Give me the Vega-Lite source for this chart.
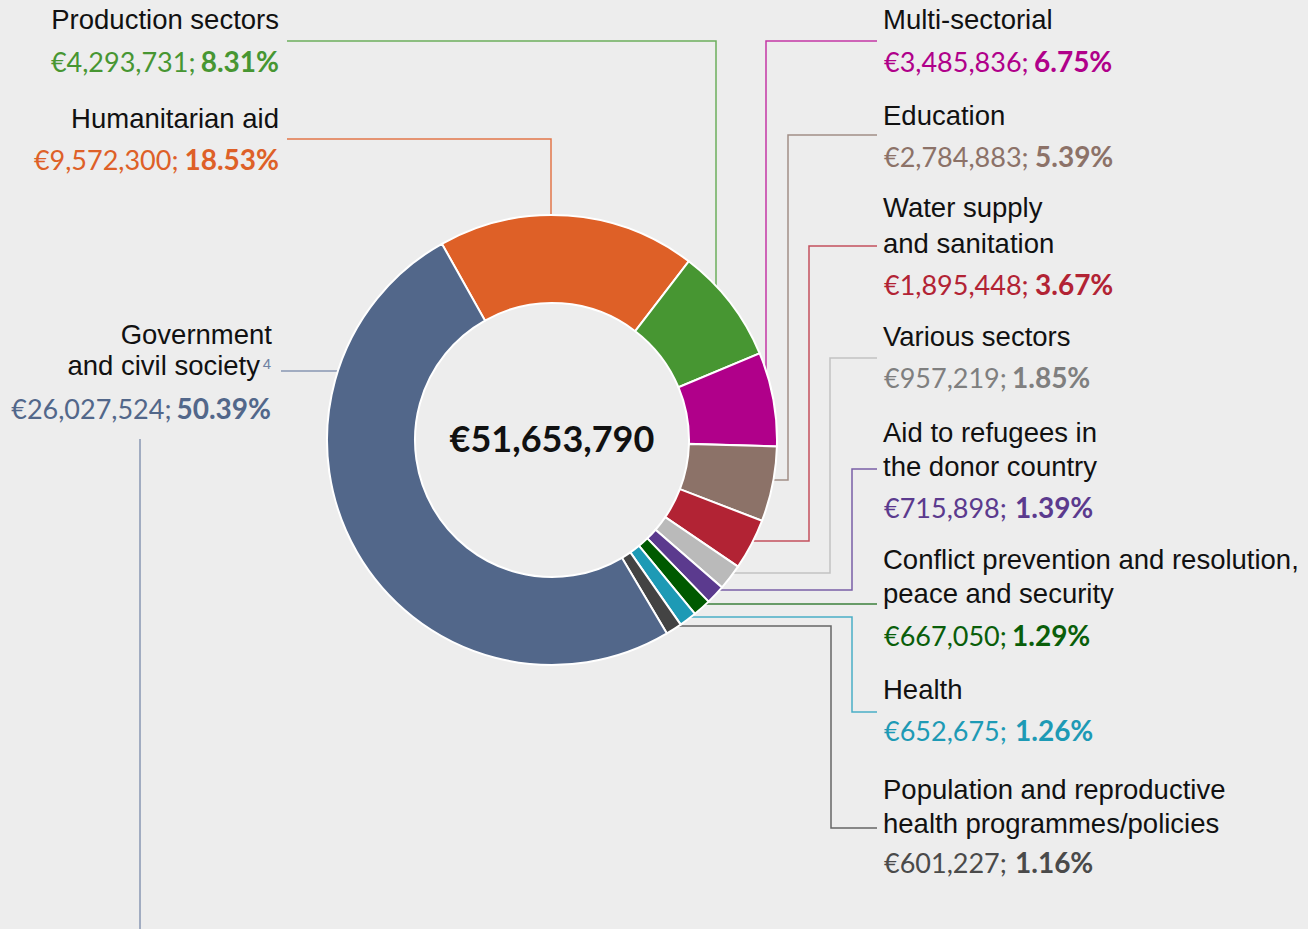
{
  "$schema": "https://vega.github.io/schema/vega-lite/v6.json",
  "width": 1308,
  "height": 929,
  "autosize": {"type": "none"},
  "padding": 0,
  "background": "#ededed",
  "config": {"view": {"stroke": null}},
  "datasets": {
    "sectors": [
      {"key": "hum", "category": "Humanitarian aid", "amount": 9572300, "pct": 18.53, "order": 1},
      {"key": "prod", "category": "Production sectors", "amount": 4293731, "pct": 8.31, "order": 2},
      {"key": "multi", "category": "Multi-sectorial", "amount": 3485836, "pct": 6.75, "order": 3},
      {"key": "edu", "category": "Education", "amount": 2784883, "pct": 5.39, "order": 4},
      {"key": "water", "category": "Water supply and sanitation", "amount": 1895448, "pct": 3.67, "order": 5},
      {"key": "various", "category": "Various sectors", "amount": 957219, "pct": 1.85, "order": 6},
      {"key": "refugees", "category": "Aid to refugees in the donor country", "amount": 715898, "pct": 1.39, "order": 7},
      {"key": "conflict", "category": "Conflict prevention and resolution, peace and security", "amount": 667050, "pct": 1.29, "order": 8},
      {"key": "health", "category": "Health", "amount": 652675, "pct": 1.26, "order": 9},
      {"key": "pop", "category": "Population and reproductive health programmes/policies", "amount": 601227, "pct": 1.16, "order": 10},
      {"key": "gov", "category": "Government and civil society", "amount": 26027524, "pct": 50.39, "order": 11}
    ],
    "labels": [
      {"key": "prod", "kind": "name", "side": "left", "text": "Production sectors", "x": 279, "y": 29},
      {"key": "prod", "kind": "amount", "side": "left", "x": 195.5, "y": 72},
      {"key": "prod", "kind": "pct", "side": "left", "x": 279, "y": 72},
      {"key": "hum", "kind": "name", "side": "left", "text": "Humanitarian aid", "x": 279, "y": 128},
      {"key": "hum", "kind": "amount", "side": "left", "x": 178.5, "y": 170},
      {"key": "hum", "kind": "pct", "side": "left", "x": 279, "y": 170},
      {"key": "gov", "kind": "name", "side": "left", "text": "Government", "x": 272, "y": 344},
      {"key": "gov", "kind": "name", "side": "left", "text": "and civil society", "x": 260, "y": 375},
      {"key": "gov", "kind": "sup", "side": "left", "text": "4", "x": 271, "y": 369},
      {"key": "gov", "kind": "amount", "side": "left", "x": 171.5, "y": 419},
      {"key": "gov", "kind": "pct", "side": "left", "x": 271, "y": 419},
      {"key": "multi", "kind": "name", "side": "right", "text": "Multi-sectorial", "x": 883, "y": 29},
      {"key": "multi", "kind": "amount", "side": "right", "x": 884, "y": 72},
      {"key": "multi", "kind": "pct", "side": "right", "x": 1034, "y": 72},
      {"key": "edu", "kind": "name", "side": "right", "text": "Education", "x": 883, "y": 125},
      {"key": "edu", "kind": "amount", "side": "right", "x": 884, "y": 167},
      {"key": "edu", "kind": "pct", "side": "right", "x": 1035, "y": 167},
      {"key": "water", "kind": "name", "side": "right", "text": "Water supply", "x": 883, "y": 217},
      {"key": "water", "kind": "name", "side": "right", "text": "and sanitation", "x": 883, "y": 252.5},
      {"key": "water", "kind": "amount", "side": "right", "x": 884, "y": 295},
      {"key": "water", "kind": "pct", "side": "right", "x": 1035, "y": 295},
      {"key": "various", "kind": "name", "side": "right", "text": "Various sectors", "x": 883, "y": 346},
      {"key": "various", "kind": "amount", "side": "right", "x": 884, "y": 388},
      {"key": "various", "kind": "pct", "side": "right", "x": 1012, "y": 388},
      {"key": "refugees", "kind": "name", "side": "right", "text": "Aid to refugees in", "x": 883, "y": 442},
      {"key": "refugees", "kind": "name", "side": "right", "text": "the donor country", "x": 883, "y": 476},
      {"key": "refugees", "kind": "amount", "side": "right", "x": 884, "y": 518},
      {"key": "refugees", "kind": "pct", "side": "right", "x": 1015, "y": 518},
      {"key": "conflict", "kind": "name", "side": "right", "text": "Conflict prevention and resolution,", "x": 883, "y": 568.5},
      {"key": "conflict", "kind": "name", "side": "right", "text": "peace and security", "x": 883, "y": 603},
      {"key": "conflict", "kind": "amount", "side": "right", "x": 884, "y": 646},
      {"key": "conflict", "kind": "pct", "side": "right", "x": 1012, "y": 646},
      {"key": "health", "kind": "name", "side": "right", "text": "Health", "x": 883, "y": 699},
      {"key": "health", "kind": "amount", "side": "right", "x": 884, "y": 741},
      {"key": "health", "kind": "pct", "side": "right", "x": 1015, "y": 741},
      {"key": "pop", "kind": "name", "side": "right", "text": "Population and reproductive", "x": 883, "y": 799},
      {"key": "pop", "kind": "name", "side": "right", "text": "health programmes/policies", "x": 883, "y": 832.5},
      {"key": "pop", "kind": "amount", "side": "right", "x": 884, "y": 873},
      {"key": "pop", "kind": "pct", "side": "right", "x": 1015, "y": 873},
      {"key": "total", "kind": "total", "side": "center", "text": "€51,653,790", "x": 552, "y": 452}
    ],
    "leaders": [
      {"path": "prod", "key": "prod", "seq": 1, "x": 287, "y": 41},
      {"path": "prod", "key": "prod", "seq": 2, "x": 716, "y": 41},
      {"path": "prod", "key": "prod", "seq": 3, "x": 716, "y": 300},
      {"path": "hum", "key": "hum", "seq": 1, "x": 287, "y": 139},
      {"path": "hum", "key": "hum", "seq": 2, "x": 551, "y": 139},
      {"path": "hum", "key": "hum", "seq": 3, "x": 551, "y": 225},
      {"path": "gov", "key": "gov", "seq": 1, "x": 281, "y": 371},
      {"path": "gov", "key": "gov", "seq": 2, "x": 345, "y": 371},
      {"path": "gov2", "key": "gov", "seq": 1, "x": 140, "y": 439},
      {"path": "gov2", "key": "gov", "seq": 2, "x": 140, "y": 929},
      {"path": "multi", "key": "multi", "seq": 1, "x": 877, "y": 41},
      {"path": "multi", "key": "multi", "seq": 2, "x": 766, "y": 41},
      {"path": "multi", "key": "multi", "seq": 3, "x": 766, "y": 380},
      {"path": "edu", "key": "edu", "seq": 1, "x": 877, "y": 135},
      {"path": "edu", "key": "edu", "seq": 2, "x": 788, "y": 135},
      {"path": "edu", "key": "edu", "seq": 3, "x": 788, "y": 480},
      {"path": "edu", "key": "edu", "seq": 4, "x": 765, "y": 480},
      {"path": "water", "key": "water", "seq": 1, "x": 877, "y": 246},
      {"path": "water", "key": "water", "seq": 2, "x": 809, "y": 246},
      {"path": "water", "key": "water", "seq": 3, "x": 809, "y": 541},
      {"path": "water", "key": "water", "seq": 4, "x": 745, "y": 541},
      {"path": "various", "key": "various", "seq": 1, "x": 877, "y": 358},
      {"path": "various", "key": "various", "seq": 2, "x": 830, "y": 358},
      {"path": "various", "key": "various", "seq": 3, "x": 830, "y": 573},
      {"path": "various", "key": "various", "seq": 4, "x": 725, "y": 573},
      {"path": "refugees", "key": "refugees", "seq": 1, "x": 877, "y": 469},
      {"path": "refugees", "key": "refugees", "seq": 2, "x": 852, "y": 469},
      {"path": "refugees", "key": "refugees", "seq": 3, "x": 852, "y": 590},
      {"path": "refugees", "key": "refugees", "seq": 4, "x": 710, "y": 590},
      {"path": "conflict", "key": "conflict", "seq": 1, "x": 877, "y": 604},
      {"path": "conflict", "key": "conflict", "seq": 2, "x": 695, "y": 604},
      {"path": "health", "key": "health", "seq": 1, "x": 877, "y": 712},
      {"path": "health", "key": "health", "seq": 2, "x": 852, "y": 712},
      {"path": "health", "key": "health", "seq": 3, "x": 852, "y": 617},
      {"path": "health", "key": "health", "seq": 4, "x": 683, "y": 617},
      {"path": "pop", "key": "pop", "seq": 1, "x": 877, "y": 828},
      {"path": "pop", "key": "pop", "seq": 2, "x": 831, "y": 828},
      {"path": "pop", "key": "pop", "seq": 3, "x": 831, "y": 626},
      {"path": "pop", "key": "pop", "seq": 4, "x": 672, "y": 626}
    ]
  },
  "layer": [
    {
      "data": {"name": "leaders"},
      "mark": {"type": "line", "strokeWidth": 1.5, "interpolate": "linear"},
      "encoding": {
        "x": {"field": "x", "type": "quantitative", "scale": {"domain": [0, 1308], "nice": false, "zero": false}, "axis": null},
        "y": {"field": "y", "type": "quantitative", "scale": {"domain": [0, 929], "nice": false, "zero": false, "reverse": true}, "axis": null},
        "detail": {"field": "path", "type": "nominal"},
        "order": {"field": "seq", "type": "quantitative"},
        "stroke": {
          "field": "key", "type": "nominal", "legend": null,
          "scale": {
            "domain": ["hum", "prod", "multi", "edu", "water", "various", "refugees", "conflict", "health", "pop", "gov"],
            "range": ["#e2774a", "#6cae5c", "#c437a5", "#a18f87", "#c4505d", "#c2c2c2", "#7a5fa6", "#3b7f3b", "#4aaec6", "#666666", "#8796b2"]
          }
        }
      }
    },
    {
      "data": {"name": "sectors"},
      "transform": [
        {"stack": "amount", "groupby": [], "sort": [{"field": "order", "order": "ascending"}], "as": ["t0", "t1"]}
      ],
      "mark": {"type": "arc", "innerRadius": 137, "outerRadius": 225, "stroke": "#ffffff", "strokeWidth": 2},
      "encoding": {
        "x": {"datum": 552, "type": "quantitative", "scale": {"domain": [0, 1308], "nice": false, "zero": false}, "axis": null},
        "y": {"datum": 440, "type": "quantitative", "scale": {"domain": [0, 929], "nice": false, "zero": false, "reverse": true}, "axis": null},
        "theta": {"field": "t0", "type": "quantitative", "scale": {"domain": [0, 51653791], "range": [-0.5114, 5.7718]}},
        "theta2": {"field": "t1"},
        "fill": {
          "field": "key", "type": "nominal", "legend": null,
          "scale": {
            "domain": ["hum", "prod", "multi", "edu", "water", "various", "refugees", "conflict", "health", "pop", "gov"],
            "range": ["#de6027", "#479632", "#b0008a", "#8c7268", "#b22334", "#bababa", "#5b3a8e", "#005a00", "#1d9ab5", "#434343", "#52678a"]
          }
        }
      }
    },
    {
      "data": {"name": "labels"},
      "transform": [{"filter": "datum.kind == 'name' && datum.side == 'left'"}],
      "mark": {"type": "text", "align": "right", "baseline": "alphabetic", "font": "Liberation Sans", "fontSize": 27.5, "fill": "#111111"},
      "encoding": {
        "x": {"field": "x", "type": "quantitative", "scale": {"domain": [0, 1308], "nice": false, "zero": false}, "axis": null},
        "y": {"field": "y", "type": "quantitative", "scale": {"domain": [0, 929], "nice": false, "zero": false, "reverse": true}, "axis": null},
        "text": {"field": "text"}
      }
    },
    {
      "data": {"name": "labels"},
      "transform": [{"filter": "datum.kind == 'name' && datum.side == 'right'"}],
      "mark": {"type": "text", "align": "left", "baseline": "alphabetic", "font": "Liberation Sans", "fontSize": 27.5, "fill": "#111111"},
      "encoding": {
        "x": {"field": "x", "type": "quantitative", "scale": {"domain": [0, 1308], "nice": false, "zero": false}, "axis": null},
        "y": {"field": "y", "type": "quantitative", "scale": {"domain": [0, 929], "nice": false, "zero": false, "reverse": true}, "axis": null},
        "text": {"field": "text"}
      }
    },
    {
      "data": {"name": "labels"},
      "transform": [
        {"lookup": "key", "from": {"data": {"name": "sectors"}, "key": "key", "fields": ["amount", "pct"]}},
        {"calculate": "'€' + format(datum.amount, ',') + ';'", "as": "label"},
        {"filter": "datum.kind == 'amount' && datum.side == 'left'"}
      ],
      "mark": {"type": "text", "align": "right", "baseline": "alphabetic", "font": "Lato", "fontSize": 27},
      "encoding": {
        "x": {"field": "x", "type": "quantitative", "scale": {"domain": [0, 1308], "nice": false, "zero": false}, "axis": null},
        "y": {"field": "y", "type": "quantitative", "scale": {"domain": [0, 929], "nice": false, "zero": false, "reverse": true}, "axis": null},
        "text": {"field": "label"},
        "color": {
          "field": "key", "type": "nominal", "legend": null,
          "scale": {
            "domain": ["hum", "prod", "multi", "edu", "water", "various", "refugees", "conflict", "health", "pop", "gov"],
            "range": ["#de6027", "#479632", "#b0008a", "#8c7268", "#b22334", "#7f7f7f", "#5b3a8e", "#0a5e0a", "#1d9ab5", "#4a4a4a", "#52678a"]
          }
        }
      }
    },
    {
      "data": {"name": "labels"},
      "transform": [
        {"lookup": "key", "from": {"data": {"name": "sectors"}, "key": "key", "fields": ["amount", "pct"]}},
        {"calculate": "'€' + format(datum.amount, ',') + ';'", "as": "label"},
        {"filter": "datum.kind == 'amount' && datum.side == 'right'"}
      ],
      "mark": {"type": "text", "align": "left", "baseline": "alphabetic", "font": "Lato", "fontSize": 27},
      "encoding": {
        "x": {"field": "x", "type": "quantitative", "scale": {"domain": [0, 1308], "nice": false, "zero": false}, "axis": null},
        "y": {"field": "y", "type": "quantitative", "scale": {"domain": [0, 929], "nice": false, "zero": false, "reverse": true}, "axis": null},
        "text": {"field": "label"},
        "color": {
          "field": "key", "type": "nominal", "legend": null,
          "scale": {
            "domain": ["hum", "prod", "multi", "edu", "water", "various", "refugees", "conflict", "health", "pop", "gov"],
            "range": ["#de6027", "#479632", "#b0008a", "#8c7268", "#b22334", "#7f7f7f", "#5b3a8e", "#0a5e0a", "#1d9ab5", "#4a4a4a", "#52678a"]
          }
        }
      }
    },
    {
      "data": {"name": "labels"},
      "transform": [
        {"lookup": "key", "from": {"data": {"name": "sectors"}, "key": "key", "fields": ["amount", "pct"]}},
        {"calculate": "format(datum.pct, '.2f') + '%'", "as": "label"},
        {"filter": "datum.kind == 'pct' && datum.side == 'left'"}
      ],
      "mark": {"type": "text", "align": "right", "baseline": "alphabetic", "font": "Lato", "fontSize": 28, "fontWeight": "bold"},
      "encoding": {
        "x": {"field": "x", "type": "quantitative", "scale": {"domain": [0, 1308], "nice": false, "zero": false}, "axis": null},
        "y": {"field": "y", "type": "quantitative", "scale": {"domain": [0, 929], "nice": false, "zero": false, "reverse": true}, "axis": null},
        "text": {"field": "label"},
        "color": {
          "field": "key", "type": "nominal", "legend": null,
          "scale": {
            "domain": ["hum", "prod", "multi", "edu", "water", "various", "refugees", "conflict", "health", "pop", "gov"],
            "range": ["#de6027", "#479632", "#b0008a", "#8c7268", "#b22334", "#7f7f7f", "#5b3a8e", "#0a5e0a", "#1d9ab5", "#4a4a4a", "#52678a"]
          }
        }
      }
    },
    {
      "data": {"name": "labels"},
      "transform": [
        {"lookup": "key", "from": {"data": {"name": "sectors"}, "key": "key", "fields": ["amount", "pct"]}},
        {"calculate": "format(datum.pct, '.2f') + '%'", "as": "label"},
        {"filter": "datum.kind == 'pct' && datum.side == 'right'"}
      ],
      "mark": {"type": "text", "align": "left", "baseline": "alphabetic", "font": "Lato", "fontSize": 28, "fontWeight": "bold"},
      "encoding": {
        "x": {"field": "x", "type": "quantitative", "scale": {"domain": [0, 1308], "nice": false, "zero": false}, "axis": null},
        "y": {"field": "y", "type": "quantitative", "scale": {"domain": [0, 929], "nice": false, "zero": false, "reverse": true}, "axis": null},
        "text": {"field": "label"},
        "color": {
          "field": "key", "type": "nominal", "legend": null,
          "scale": {
            "domain": ["hum", "prod", "multi", "edu", "water", "various", "refugees", "conflict", "health", "pop", "gov"],
            "range": ["#de6027", "#479632", "#b0008a", "#8c7268", "#b22334", "#7f7f7f", "#5b3a8e", "#0a5e0a", "#1d9ab5", "#4a4a4a", "#52678a"]
          }
        }
      }
    },
    {
      "data": {"name": "labels"},
      "transform": [{"filter": "datum.kind == 'sup'"}],
      "mark": {"type": "text", "align": "right", "baseline": "alphabetic", "font": "Liberation Sans", "fontSize": 15, "fill": "#6f82a3"},
      "encoding": {
        "x": {"field": "x", "type": "quantitative", "scale": {"domain": [0, 1308], "nice": false, "zero": false}, "axis": null},
        "y": {"field": "y", "type": "quantitative", "scale": {"domain": [0, 929], "nice": false, "zero": false, "reverse": true}, "axis": null},
        "text": {"field": "text"}
      }
    },
    {
      "data": {"name": "labels"},
      "transform": [{"filter": "datum.kind == 'total'"}],
      "mark": {"type": "text", "align": "center", "baseline": "alphabetic", "font": "Lato", "fontSize": 36, "fontWeight": "bold", "fill": "#111111"},
      "encoding": {
        "x": {"field": "x", "type": "quantitative", "scale": {"domain": [0, 1308], "nice": false, "zero": false}, "axis": null},
        "y": {"field": "y", "type": "quantitative", "scale": {"domain": [0, 929], "nice": false, "zero": false, "reverse": true}, "axis": null},
        "text": {"field": "text"}
      }
    }
  ]
}
